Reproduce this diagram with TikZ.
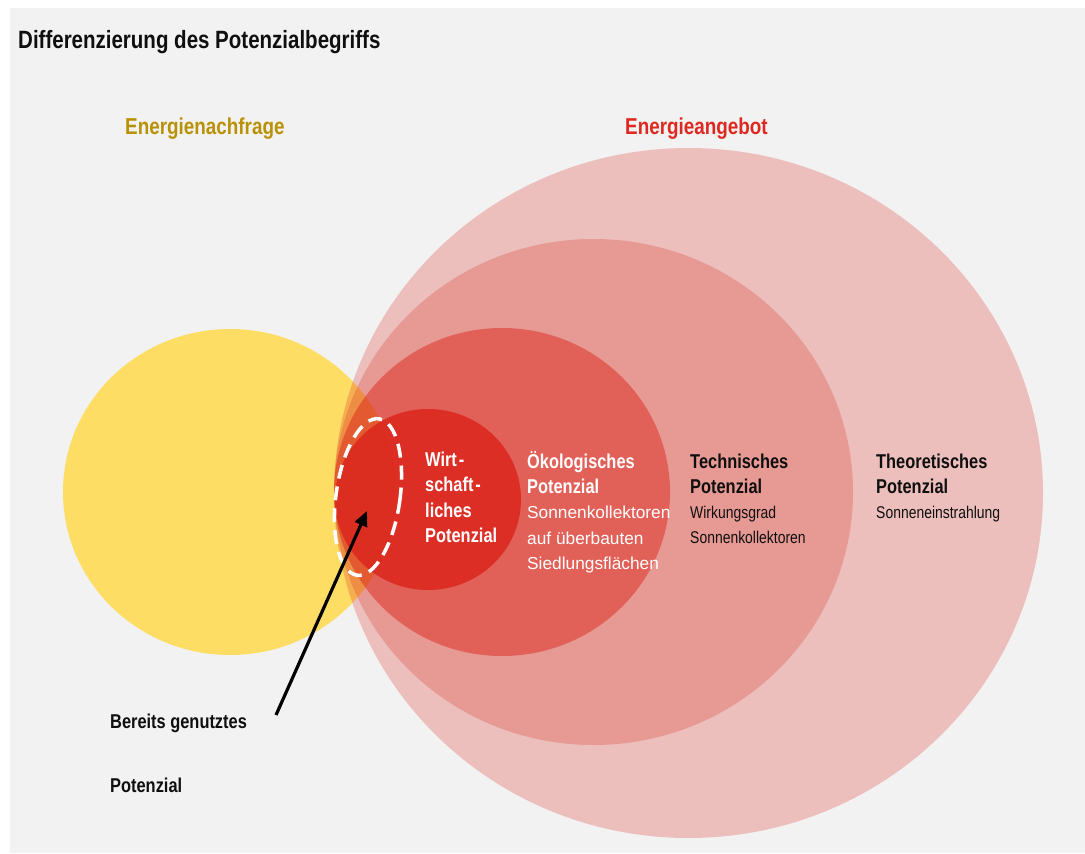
\documentclass[tikz,border=0pt]{standalone}
\usepackage{fontspec}
\setmainfont{Liberation Sans}
\newfontfamily\nar{Liberation Sans}[FakeStretch=0.82]
\usetikzlibrary{arrows.meta,shapes.geometric}
\definecolor{bg}{RGB}{242,242,242}
\definecolor{ylw}{RGB}{254,221,100}
\definecolor{rd}{RGB}{220,40,30}
\definecolor{gold}{RGB}{185,145,5}
\definecolor{rtxt}{RGB}{222,40,32}
\definecolor{ink}{RGB}{15,15,15}
\begin{document}
\begin{tikzpicture}[x=1pt,y=-1pt,
  txt/.style={anchor=base west, inner sep=0pt, text=ink},
  bd/.style={txt, font=\nar\bfseries\fontsize{20}{24}\selectfont},
  rg/.style={txt, font=\nar\fontsize{17}{21}\selectfont},
  rgw/.style={txt, text=white, font=\fontsize{17.3}{21}\selectfont},
  blob/.style={ellipse, inner sep=0pt, draw=none},
  redblob/.style={blob, fill=rd},
]
\useasboundingbox (0,0) rectangle (1085,854);
\fill[white] (0,0) rectangle (1085,854);
\fill[bg] (10,8) rectangle (1085,853);

% circles
\node[blob, fill=ylw, minimum width=334pt, minimum height=326pt] (yel) at (230,492) {};
\node[redblob, fill opacity=0.25, minimum width=709pt, minimum height=690pt] (theo) at (688.5,493) {};
\node[redblob, fill opacity=0.25, minimum width=519pt, minimum height=506pt] (tech) at (593.5,492) {};
\node[redblob, fill opacity=0.5, minimum width=336pt, minimum height=328pt] (eco) at (502,492) {};
\node[redblob, fill opacity=0.88, minimum width=186pt, minimum height=181pt] (econ) at (428,499.5) {};

% used potential
\node[ellipse, draw=white, line width=3.5pt, dash pattern=on 14pt off 8pt, minimum width=64pt, minimum height=158pt, inner sep=0pt, rotate=-8] (used) at (368,497) {};

% titles
\node[txt, font=\nar\bfseries\fontsize{25}{30}\selectfont] (title) at (18,48) {Differenzierung des Potenzialbegriffs};
\node[txt, text=gold, font=\nar\bfseries\fontsize{23}{28}\selectfont] (nach) at (125,134) {Energienachfrage};
\node[txt, text=rtxt, font=\nar\bfseries\fontsize{23}{28}\selectfont] (ang) at (625,134) {Energieangebot};

% economic
\node[bd, text=white] (w1) at (425,466) {Wirt\kern2pt-};
\node[bd, text=white] (w2) at (425,491) {schaft\kern2pt-};
\node[bd, text=white] (w3) at (425,517) {liches};
\node[bd, text=white] (w4) at (425,542) {Potenzial};

% ecological
\node[bd, text=white] (e1) at (527,468) {Ökologisches};
\node[bd, text=white] (e2) at (527,493) {Potenzial};
\node[rgw] (e3) at (527,518) {Sonnenkollektoren};
\node[rgw] (e4) at (527,544) {auf überbauten};
\node[rgw] (e5) at (527,569) {Siedlungsflächen};

% technical
\node[bd] (t1) at (690,468) {Technisches};
\node[bd] (t2) at (690,493) {Potenzial};
\node[rg] (t3) at (690,518) {Wirkungsgrad};
\node[rg] (t4) at (690,543) {Sonnenkollektoren};

% theoretical
\node[bd] (h1) at (876,468) {Theoretisches};
\node[bd] (h2) at (876,493) {Potenzial};
\node[rg] (h3) at (876,518) {Sonneneinstrahlung};

% already used label
\node[bd] (b1) at (110,728) {Bereits genutztes};
\node[bd] (b2) at (110,792) {Potenzial};

\coordinate (atail) at (276,715);
\coordinate (ahead) at (367,511);
\draw[line width=3.2pt, draw=black, -{Triangle[length=15pt,width=13pt]}] (atail) -- (ahead);
\end{tikzpicture}
\end{document}
